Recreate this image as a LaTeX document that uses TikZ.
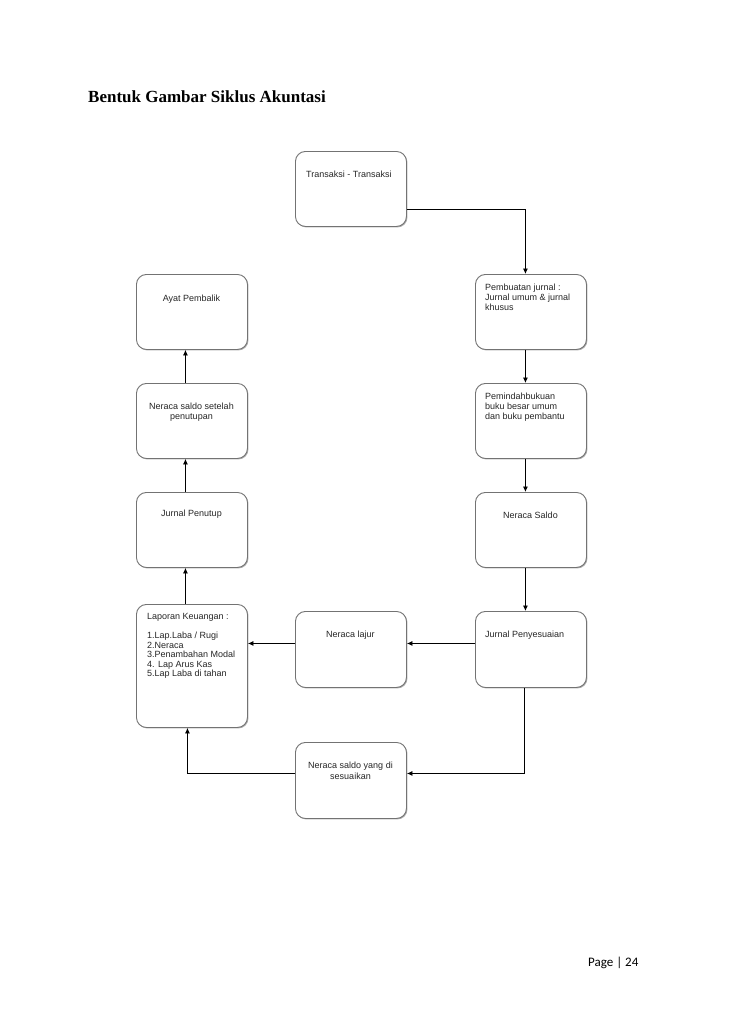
\documentclass[tikz,border=0pt]{standalone}
\usepackage{fontspec}
\setmainfont{Liberation Sans}
\newfontfamily\titlefont{Liberation Serif}
\newfontfamily\footfont{Carlito}
\usetikzlibrary{calc,arrows.meta,shadows}
\begin{document}
\begin{tikzpicture}[x=1pt,y=-1pt,
  box/.style={draw=black!55,line width=0.9pt,rounded corners=10pt,fill=white,
    inner sep=0pt,anchor=north west,
    drop shadow={shadow xshift=1pt,shadow yshift=-1pt,opacity=0.45,fill=black!70}},
  txt/.style={inner sep=0pt,font=\fontsize{9}{10}\selectfont,text=black!85},
  arr/.style={draw=black,line width=0.8pt,-{Latex[length=5.5pt,width=5pt]}},
  ln/.style={draw=black,line width=0.8pt}]
\useasboundingbox[fill=white] (0,0) rectangle (728,1030);

% title and footer
\node[anchor=base west,inner sep=0pt,font=\titlefont\bfseries\fontsize{17}{20}\selectfont] (title) at (88,103) {Bentuk Gambar Siklus Akuntasi};
\node[anchor=base west,inner sep=0pt,font=\footfont\fontsize{13}{15}\selectfont] (page) at (588,966) {Page | 24};

% boxes
\node[box,minimum width=111pt,minimum height=75pt] (trans) at (295,151) {};
\node[box,minimum width=111pt,minimum height=75pt] (pemb) at (475,274) {};
\node[box,minimum width=111pt,minimum height=75pt] (pemind) at (475,383) {};
\node[box,minimum width=111pt,minimum height=75pt] (nsaldo) at (475,492) {};
\node[box,minimum width=111pt,minimum height=76pt] (jpeny) at (475,611) {};
\node[box,minimum width=111pt,minimum height=76pt] (lajur) at (295,611) {};
\node[box,minimum width=111pt,minimum height=123pt] (lap) at (136,604) {};
\node[box,minimum width=111pt,minimum height=75pt] (jpen) at (136,492) {};
\node[box,minimum width=111pt,minimum height=75pt] (nsp) at (136,383) {};
\node[box,minimum width=111pt,minimum height=75pt] (ayat) at (136,274) {};
\node[box,minimum width=111pt,minimum height=76pt] (nsy) at (295,742) {};

% texts
\node[txt,anchor=north west] (ttrans) at (306,170.5) {Transaksi - Transaksi};
\node[txt,anchor=north west,align=left] (tpemb) at (485,283.5) {Pembuatan jurnal :\\Jurnal umum \& jurnal\\khusus};
\node[txt,anchor=north west,align=left] (tpemind) at (485,392.5) {Pemindahbukuan\\buku besar umum\\dan buku pembantu};
\node[txt,anchor=north] (tnsaldo) at (530.5,511.5) {Neraca Saldo};
\node[txt,anchor=north west] (tjpeny) at (485,630.5) {Jurnal Penyesuaian};
\node[txt,anchor=north] (tlajur) at (350.5,630.5) {Neraca lajur};
\node[txt,anchor=north west,align=left,font=\fontsize{9}{9.5}\selectfont] (tlap) at (147,613.5) {Laporan Keuangan :\\[9.5pt]1.Lap.Laba / Rugi\\2.Neraca\\3.Penambahan Modal\\4. Lap Arus Kas\\5.Lap Laba di tahan};
\node[txt,anchor=north] (tjpen) at (191.5,509.5) {Jurnal Penutup};
\node[txt,anchor=north,align=center] (tnsp) at (191.5,402.5) {Neraca saldo setelah\\penutupan};
\node[txt,anchor=north] (tayat) at (191.5,294.5) {Ayat Pembalik};
\node[txt,anchor=north,align=center,font=\fontsize{9}{11}\selectfont] (tnsy) at (350.5,761.5) {Neraca saldo yang di\\sesuaikan};

% connectors
\draw[arr] ($(trans.east)+(0,20.5)$) -| ($(pemb.north)+(-5.5,0)$);
\draw[arr] ($(pemb.south)+(-5.5,0)$) -- ($(pemind.north)+(-5.5,0)$);
\draw[arr] ($(pemind.south)+(-5.5,0)$) -- ($(nsaldo.north)+(-5.5,0)$);
\draw[arr] ($(nsaldo.south)+(-5.5,0)$) -- ($(jpeny.north)+(-5.5,0)$);
\draw[arr] ($(jpeny.west)+(0,-6)$) coordinate (h1) -- (lajur.east |- h1);
\draw[arr] ($(lajur.west)+(0,-6)$) coordinate (h2) -- (lap.east |- h2);
\draw[arr] ($(jpeny.south)+(-6.5,0)$) |- ($(nsy.east)+(0,-7)$);
\draw[arr] ($(nsy.west)+(0,-7)$) -| ($(lap.south)+(-4.5,0)$);
\draw[arr] ($(lap.north)+(-6.5,0)$) -- ($(jpen.south)+(-6.5,0)$);
\draw[arr] ($(jpen.north)+(-6.5,0)$) -- ($(nsp.south)+(-6.5,0)$);
\draw[arr] ($(nsp.north)+(-6.5,0)$) -- ($(ayat.south)+(-6.5,0)$);
\end{tikzpicture}
\end{document}
